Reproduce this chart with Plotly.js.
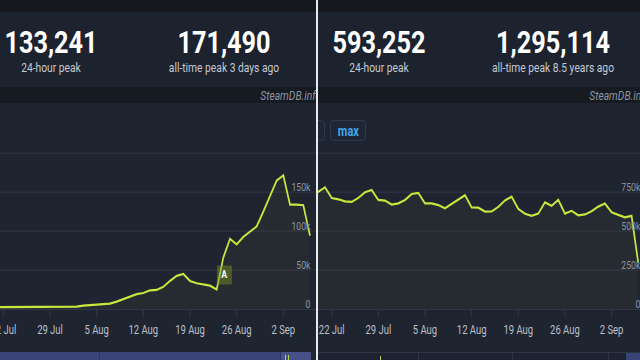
<!DOCTYPE html>
<html><head><meta charset="utf-8">
<script src="https://cdn.plot.ly/plotly-3.0.1.min.js"></script>
<style>
html,body{margin:0;padding:0;width:640px;height:360px;overflow:hidden;background:#15181e;font-family:Roboto,"Noto Sans",sans-serif;}
.panel{position:absolute;top:0;height:360px;overflow:hidden;background:#1f2431;}
.top{position:absolute;left:0;right:0;top:0;height:12px;background:#15181e;}
.stats{position:absolute;left:0;right:0;top:12px;height:75px;background:#1c222e;}
.strip{position:absolute;left:0;right:0;top:87px;height:16px;background:#161a21;}
.num{position:absolute;top:26px;width:200px;margin-left:-100px;text-align:center;color:#fff;font-weight:700;font-size:32px;line-height:32px;transform:scaleX(0.79);white-space:nowrap;}
.lab{position:absolute;top:60px;width:260px;margin-left:-130px;text-align:center;color:#c3c9d2;font-size:13px;line-height:15px;transform:scaleX(0.79);white-space:nowrap;}
.brand{position:absolute;top:88px;font-style:italic;font-size:13px;line-height:15px;color:#8c95a1;transform:scaleX(0.79);transform-origin:right center;white-space:nowrap;}
.chart{position:absolute;left:0;top:103px;height:257px;transform:scaleX(0.79);transform-origin:0 0;}
.nav{position:absolute;top:352px;height:8px;}
.vl{position:absolute;top:0;width:1px;height:8px;}
.btn{position:absolute;top:120px;height:19px;border:1px solid #2f3a4b;border-radius:4px;background:#1e2534;text-align:center;z-index:5;}
.btn span{display:inline-block;color:#44a5ea;font-weight:700;font-size:14px;line-height:19px;transform:scaleX(0.79);}
#divider{position:absolute;left:316px;top:0;width:2px;height:360px;background:#e6e9ee;z-index:10;}
</style></head>
<body>
<div class="panel" id="leftPanel" style="left:0;width:316px;">
  <div class="top"></div>
  <div class="stats" style="right:2px;"></div>
  <div class="strip"></div>
  <div class="num" style="left:51px;">133,241</div>
  <div class="lab" style="left:51px;">24-hour peak</div>
  <div class="num" style="left:224px;">171,490</div>
  <div class="lab" style="left:224px;">all-time peak 3 days ago</div>
  <div class="brand" style="right:-5px;">SteamDB.info</div>
  <div class="chart" id="chartL"></div>
  <div class="nav" style="left:0;width:311px;background:#3b4478;">
    <div class="vl" style="left:99px;background:#2f3667;"></div>
    <div style="position:absolute;left:280px;top:0;width:31px;height:8px;background:#485089;"></div>
    <div class="vl" style="left:280px;background:#2f3667;"></div>
    <div style="position:absolute;left:285px;top:3px;width:1px;height:5px;background:#b9d245;"></div>
    <div style="position:absolute;left:288px;top:3px;width:1px;height:5px;background:#b9d245;"></div>
  </div>
</div>
<div id="divider"></div>
<div class="panel" id="rightPanel" style="left:318px;width:322px;">
  <div class="top"></div>
  <div class="stats"></div>
  <div class="strip"></div>
  <div class="num" style="left:60.5px;">593,252</div>
  <div class="lab" style="left:60.5px;">24-hour peak</div>
  <div class="num" style="left:234.5px;">1,295,114</div>
  <div class="lab" style="left:234.5px;">all-time peak 8.5 years ago</div>
  <div class="brand" style="right:-10px;">SteamDB.info</div>
  <div class="btn" style="left:-19px;width:24px;"><span>1y</span></div>
  <div class="btn" style="left:12px;width:34px;"><span>max</span></div>
  <div class="chart" id="chartR"></div>
  <div class="nav" style="left:0;width:322px;background:#1c2230;border-top:1px solid #2d3443;height:7px;">
    <div class="vl" style="left:100px;background:#2d3443;"></div>
    <div class="vl" style="left:194px;background:#2d3443;"></div>
    <div class="vl" style="left:290px;background:#2d3443;"></div>
    <div style="position:absolute;left:62px;top:3px;width:1px;height:4px;background:#b9d245;"></div>
    <div style="position:absolute;left:308px;top:0;width:14px;height:8px;background:#3b4478;"></div>
  </div>
</div>
<script>
// ---- data ----
const dates = ['2024-07-19','2024-07-20','2024-07-21','2024-07-22','2024-07-23','2024-07-24','2024-07-25','2024-07-26','2024-07-27','2024-07-28','2024-07-29','2024-07-30','2024-07-31',
'2024-08-01','2024-08-02','2024-08-03','2024-08-04','2024-08-05','2024-08-06','2024-08-07','2024-08-08','2024-08-09','2024-08-10','2024-08-11','2024-08-12','2024-08-13','2024-08-14','2024-08-15','2024-08-16','2024-08-17','2024-08-18','2024-08-19','2024-08-20','2024-08-21','2024-08-22','2024-08-23','2024-08-24','2024-08-25','2024-08-26','2024-08-27','2024-08-28','2024-08-29','2024-08-30','2024-08-31',
'2024-09-01','2024-09-02','2024-09-03','2024-09-04','2024-09-05','2024-09-06'];
const playersLeft = [2400,2500,2500,2600,2700,2700,2800,3000,3100,3300,3400,3300,3200,3100,3000,4300,4800,5200,5600,7000,9500,12500,15500,19000,20500,24000,24500,28500,36000,42500,45000,36000,33000,31500,30000,25000,66000,90000,83000,92500,99000,106000,125000,146000,165000,171490,134000,134000,133241,94000];
const playersRight = [735000,752000,781000,712000,704000,691000,687000,713000,749000,764000,700000,696000,670000,678000,700000,738000,745000,678000,678000,667000,646000,674000,706000,730000,652000,650000,625000,626000,655000,697000,721000,642000,611000,598000,612000,684000,662000,700000,612000,630000,601000,607000,627000,657000,677000,620000,604000,588000,598000,296000];
const tickDates = ['2024-07-22','2024-07-29','2024-08-05','2024-08-12','2024-08-19','2024-08-26','2024-09-02'];
const tickLabels = ['22 Jul','29 Jul','5 Aug','12 Aug','19 Aug','26 Aug','2 Sep'];
const yTicksLeft = [0,50000,100000,150000,200000];
const yLabelsLeft = ['0','50k','100k','150k',''];
const yTicksRight = [0,250000,500000,750000,1000000];
const yLabelsRight = ['0','250k','500k','750k',''];
const markerDate = '2024-08-24 02:24:00';
const markerValue = 43600;

// ---- rendering ----
const S = 0.79;
function dstr(d){ const t = new Date(Date.UTC(2024,6,22) + d*864e5); return t.toISOString().slice(0,19).replace('T',' '); }
const lineColor = '#c8e63c';
const grid = '#323947';

function makeLayout(width, xr, yr, yt, yl){
  return {
    width: width, height: 257,
    margin:{l:0,r:0,t:19,b:51,pad:0},
    paper_bgcolor:'rgba(0,0,0,0)', plot_bgcolor:'rgba(0,0,0,0)',
    showlegend:false,
    font:{family:'Roboto, sans-serif'},
    xaxis:{type:'date', range:xr, tickmode:'array', tickvals:tickDates, ticktext:tickLabels,
      ticks:'outside', ticklen:7, tickwidth:1, tickcolor:grid, showgrid:false,
      showline:true, linecolor:grid, linewidth:1, zeroline:false, ticklabeloverflow:'allow',
      tickfont:{family:'Roboto, sans-serif', size:12, color:'#b9c0ca'}, ticklabelstandoff:3, fixedrange:true},
    yaxis:{range:yr, side:'right', tickmode:'array', tickvals:yt, ticktext:yl,
      ticklabelposition:'inside top', ticklabeloverflow:'allow', ticklabelstandoff:4, ticklabelshift:3,
      gridcolor:grid, gridwidth:1, showline:false, zeroline:false, ticks:'',
      tickfont:{family:'Roboto, sans-serif', size:11, color:'#8d96a3'}, fixedrange:true}
  };
}
function trace(vals){
  return {type:'scatter', mode:'lines', x:dates, y:vals, line:{color:lineColor, width:2.2, shape:'linear'},
    fill:'tozeroy', fillcolor:'rgba(200,230,60,0.04)', hoverinfo:'skip'};
}
const cfg = {staticPlot:true, displayModeBar:false};

const layL = makeLayout(316/S, [dstr(-0.5), dstr(46.9)], [0,240000], yTicksLeft, yLabelsLeft);
layL.annotations = [{x:markerDate, y:markerValue, xref:'x', yref:'y', text:'<b>A</b>', showarrow:false,
  bgcolor:'rgba(120,150,40,0.45)', width:18, height:18, borderpad:0, font:{color:'#ffffff', size:11, family:'Roboto, sans-serif'}}];
Plotly.newPlot('chartL', [trace(playersLeft)], layL, cfg);

const layR = makeLayout(328/S, [dstr(-2.055), dstr(47.14)], [0,1200000], yTicksRight, yLabelsRight);
Plotly.newPlot('chartR', [trace(playersRight)], layR, cfg);
</script>
</body></html>
